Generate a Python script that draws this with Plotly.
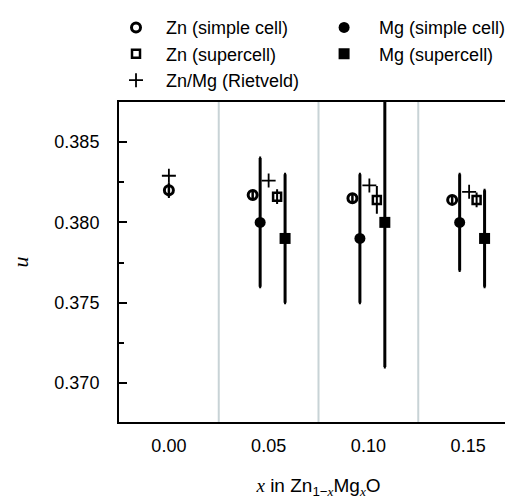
import plotly.graph_objects as go

# ---- data ----
x_labels = ["0.00", "0.05", "0.10", "0.15"]

zn_simple_idx = [0, 1, 2, 3]
zn_simple_u = [0.3820, 0.3817, 0.3815, 0.3814]
zn_simple_err = [0.0004, 0.0002, 0.0002, 0.0002]

mg_simple_idx = [1, 2, 3]
mg_simple_u = [0.380, 0.379, 0.380]
mg_simple_err = [0.004, 0.004, 0.003]

zn_super_idx = [1, 2, 3]
zn_super_u = [0.3816, 0.3814, 0.3814]
zn_super_err = [0.0004, 0.0008, 0.0004]

mg_super_idx = [1, 2, 3]
mg_super_u = [0.379, 0.380, 0.379]
mg_super_err = [0.004, 0.009, 0.003]

riet_idx = [0, 1, 2, 3]
riet_u = [0.3829, 0.3826, 0.3823, 0.3819]

# horizontal offsets within each group (layout)
zn_simple_off = [0.0, -0.16, -0.16, -0.16]
mg_simple_off = -0.085
riet_off = [0.0, 0.0, 0.01, 0.01]
zn_super_off = 0.085
mg_super_off = 0.165

FONT = "Liberation Sans, Arial, sans-serif"
SERIF = "Liberation Serif, Times New Roman, serif"
NB = "\u00a0"

fig = go.Figure()

def eb(arr, w):
    return dict(type="data", array=arr, visible=True, color="black", thickness=w, width=1)

fig.add_trace(go.Scatter(
    x=[i + o for i, o in zip(zn_simple_idx, zn_simple_off)], y=zn_simple_u,
    mode="markers", name=NB * 2 + "Zn (simple cell)", legend="legend",
    marker=dict(symbol="circle", size=9, color="rgba(0,0,0,0)", line=dict(color="black", width=3)),
    error_y=eb(zn_simple_err, 2.5)))
fig.add_trace(go.Scatter(
    x=[i + zn_super_off for i in zn_super_idx], y=zn_super_u,
    mode="markers", name=NB * 2 + "Zn (supercell)", legend="legend",
    marker=dict(symbol="square", size=8, color="rgba(0,0,0,0)", line=dict(color="black", width=2.5)),
    error_y=eb(zn_super_err, 2)))
fig.add_trace(go.Scatter(
    x=[i + o for i, o in zip(riet_idx, riet_off)], y=riet_u,
    mode="markers", name=NB * 2 + "Zn/Mg (Rietveld)", legend="legend",
    marker=dict(symbol="cross-thin", size=10, color="black", line=dict(color="black", width=1.8))))
fig.add_trace(go.Scatter(
    x=[i + mg_simple_off for i in mg_simple_idx], y=mg_simple_u,
    mode="markers", name=NB * 3 + "Mg (simple cell)", legend="legend2",
    marker=dict(symbol="circle", size=11, color="black", line=dict(color="black", width=0)),
    error_y=eb(mg_simple_err, 3)))
fig.add_trace(go.Scatter(
    x=[i + mg_super_off for i in mg_super_idx], y=mg_super_u,
    mode="markers", name=NB * 3 + "Mg (supercell)", legend="legend2",
    marker=dict(symbol="square", size=11, color="black", line=dict(color="black", width=0)),
    error_y=eb(mg_super_err, 3)))

for b in [0.5, 1.5, 2.5]:
    fig.add_shape(type="line", xref="x", yref="paper", x0=b, x1=b, y0=0, y1=1,
                  line=dict(color="#c8d3d6", width=2), layer="below")

leg_common = dict(orientation="v", yanchor="top", y=1.29, xanchor="left",
                  traceorder="normal", tracegroupgap=0,
                  font=dict(family=FONT, size=18, color="black"),
                  bgcolor="rgba(0,0,0,0)", borderwidth=0)

fig.update_layout(
    width=513, height=498,
    margin=dict(l=111, r=1, t=93, b=84),
    paper_bgcolor="white", plot_bgcolor="white",
    font=dict(family=FONT, size=18, color="black"),
    showlegend=True,
    legend=dict(x=-0.0075, **leg_common),
    legend2=dict(x=0.514, **leg_common),
    xaxis=dict(range=[-0.5, 3.5], tickvals=[0, 1, 2, 3], ticktext=x_labels,
               showgrid=False, zeroline=False, showline=True, linecolor="black",
               linewidth=2, mirror=True, ticks="", ticklabelstandoff=6,
               title=dict(text="<span style='font-family:Liberation Serif;font-style:italic'>x</span> in Zn<sub>1\u2212<span style='font-family:Liberation Serif;font-style:italic'>x</span></sub>Mg<sub><span style='font-family:Liberation Serif;font-style:italic'>x</span></sub>O",
                          font=dict(size=19), standoff=24)),
    yaxis=dict(range=[0.36758, 0.38749], tickvals=[0.370, 0.375, 0.380, 0.385],
               ticktext=["0.370", "0.375", "0.380", "0.385"],
               showgrid=False, zeroline=False, showline=True, linecolor="black",
               linewidth=2, mirror="ticks", ticks="inside", ticklen=8, tickwidth=2,
               tickcolor="black", ticklabelstandoff=14,
               minor=dict(tickvals=[0.3675, 0.3725, 0.3775, 0.3825], ticks="inside",
                          ticklen=5, tickwidth=2, tickcolor="black"),
               title=dict(text="<i>u</i>", font=dict(family=SERIF, size=22), standoff=26)),
)

fig.write_html("out.html")
